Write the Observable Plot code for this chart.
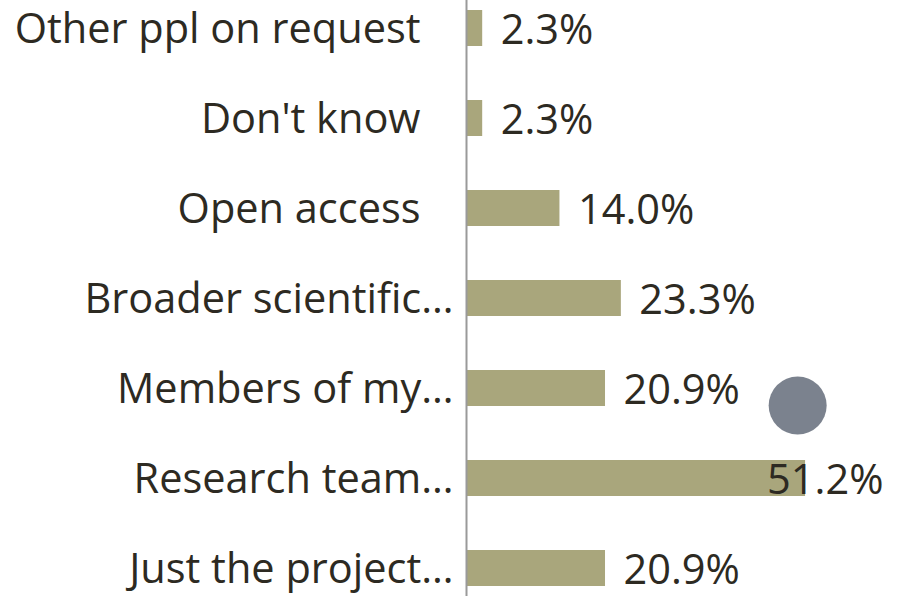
<!DOCTYPE html>
<html>
<head>
<meta charset="utf-8">
<script src="https://cdn.jsdelivr.net/npm/d3@7"></script>
<script src="https://cdn.jsdelivr.net/npm/@observablehq/plot@0.6"></script>
<style>
  html, body { margin: 0; padding: 0; background: #ffffff; }
  #chart svg { display: block; }
</style>
</head>
<body>
<div id="chart"></div>
<script>
const categories = [
  "Other ppl on request",
  "Don't know",
  "Open access",
  "Broader scientific…",
  "Members of my…",
  "Research team…",
  "Just the project…"
];
const values = [2.3, 2.3, 14.0, 23.3, 20.9, 51.2, 20.9];
const valueLabels = ["2.3%", "2.3%", "14.0%", "23.3%", "20.9%", "51.2%", "20.9%"];
// decorative grey circle in the reference
const markerX = [50.0];
const markerCategory = ["Members of my…"];

const data = categories.map((c, i) => ({ category: c, value: values[i], label: valueLabels[i] }));
const marker = markerX.map((x, i) => ({ x, category: markerCategory[i] }));

const textColor = "#2d2a22";
const barColor = "#a9a67c";
const font = "'Open Sans', 'Noto Sans', sans-serif";
const fs = 41.5;
const xMax = 63;
const fitsOutside = d => d.value < 45;

const chart = Plot.plot({
  width: 901,
  height: 596,
  marginLeft: 467,
  marginRight: 18,
  marginTop: 7,
  marginBottom: 7,
  style: { fontFamily: font, background: "#ffffff", color: textColor },
  x: { domain: [0, xMax], axis: null },
  y: { domain: categories, axis: null, paddingInner: 0.604, paddingOuter: 0 },
  marks: [
    Plot.barX(data, { x: "value", y: "category", fill: barColor }),
    Plot.ruleX([0], { stroke: "#9a9a9a", strokeWidth: 2, dx: -1, insetTop: -7, insetBottom: -7 }),
    Plot.text(data.filter(d => !d.category.endsWith("…")), {
      x: 0, y: "category", text: "category", textAnchor: "end", dx: -47, dy: 1,
      fontSize: fs, fill: textColor
    }),
    Plot.text(data.filter(d => d.category.endsWith("…")), {
      x: 0, y: "category", text: "category", textAnchor: "end", dx: -14, dy: 1,
      fontSize: fs, fill: textColor
    }),
    Plot.text(data.filter(fitsOutside), {
      x: "value", y: "category", text: "label", textAnchor: "start", dx: 18, dy: 2,
      fontSize: fs, fill: textColor
    }),
    Plot.text(data.filter(d => !fitsOutside(d)), {
      y: "category", text: "label", textAnchor: "end", frameAnchor: "right", dy: 2,
      fontSize: fs, fill: textColor
    }),
    Plot.dot(marker, { x: "x", y: "category", r: 29, fill: "#7b828e", dy: 17 })
  ]
});

document.getElementById("chart").appendChild(chart);
</script>
</body>
</html>
